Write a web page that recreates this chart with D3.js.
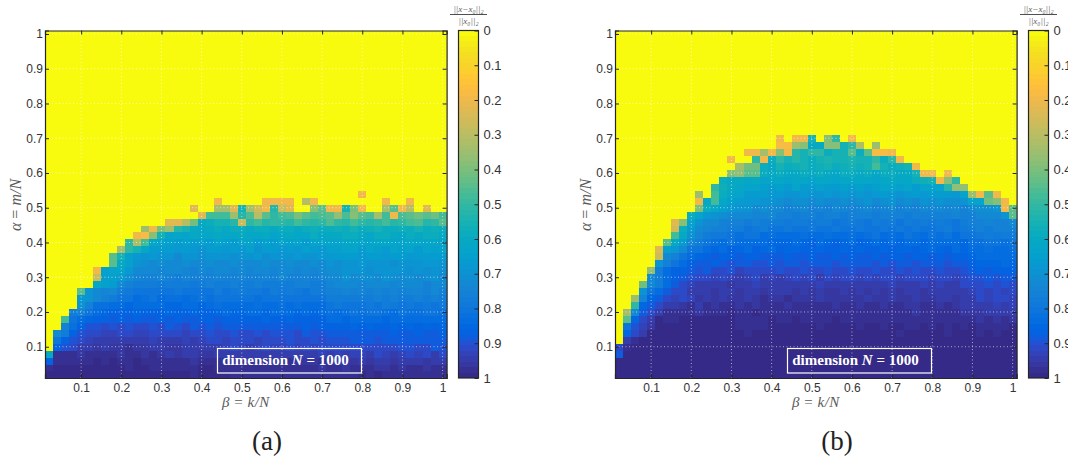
<!DOCTYPE html>
<html>
<head>
<meta charset="utf-8">
<script src="https://cdn.jsdelivr.net/npm/d3@7"></script>
<style>
  html, body { margin: 0; padding: 0; background: #fff; overflow: hidden; }
  svg { display: block; }
  .tick text { font-family: "Liberation Sans", Arial, sans-serif; fill: #333; }
  .math { font-family: "Liberation Serif", serif; fill: #5a5a5a; }
</style>
</head>
<body>
<svg id="chart" width="1068" height="459"></svg>
<script>
// tick labels
const betaTicks = [0.1, 0.2, 0.3, 0.4, 0.5, 0.6, 0.7, 0.8, 0.9, 1];
const alphaTicks = [0.1, 0.2, 0.3, 0.4, 0.5, 0.6, 0.7, 0.8, 0.9, 1];
const barTicks = [0, 0.1, 0.2, 0.3, 0.4, 0.5, 0.6, 0.7, 0.8, 0.9, 1];

// parula, 64 levels (dark blue -> yellow)
const parula = [
  [0.2081,0.1663,0.5292],[0.2116,0.1898,0.5777],[0.2123,0.2138,0.6270],[0.2081,0.2386,0.6771],
  [0.1959,0.2645,0.7279],[0.1707,0.2919,0.7792],[0.1253,0.3242,0.8303],[0.0591,0.3598,0.8683],
  [0.0117,0.3875,0.8820],[0.0060,0.4086,0.8828],[0.0165,0.4266,0.8786],[0.0329,0.4430,0.8720],
  [0.0498,0.4586,0.8641],[0.0629,0.4737,0.8554],[0.0723,0.4887,0.8467],[0.0779,0.5040,0.8384],
  [0.0793,0.5200,0.8312],[0.0749,0.5375,0.8263],[0.0641,0.5570,0.8240],[0.0488,0.5772,0.8228],
  [0.0343,0.5966,0.8199],[0.0265,0.6137,0.8135],[0.0239,0.6287,0.8038],[0.0231,0.6418,0.7913],
  [0.0228,0.6535,0.7768],[0.0267,0.6642,0.7607],[0.0384,0.6743,0.7436],[0.0590,0.6838,0.7254],
  [0.0843,0.6928,0.7062],[0.1133,0.7015,0.6859],[0.1453,0.7098,0.6646],[0.1801,0.7177,0.6424],
  [0.2178,0.7250,0.6193],[0.2586,0.7317,0.5954],[0.3022,0.7376,0.5712],[0.3482,0.7424,0.5473],
  [0.3953,0.7459,0.5244],[0.4420,0.7481,0.5033],[0.4871,0.7491,0.4840],[0.5300,0.7491,0.4661],
  [0.5709,0.7485,0.4494],[0.6099,0.7473,0.4337],[0.6473,0.7456,0.4188],[0.6834,0.7435,0.4044],
  [0.7184,0.7411,0.3905],[0.7525,0.7384,0.3768],[0.7858,0.7356,0.3633],[0.8185,0.7327,0.3498],
  [0.8507,0.7299,0.3360],[0.8824,0.7274,0.3217],[0.9139,0.7258,0.3063],[0.9450,0.7261,0.2886],
  [0.9739,0.7314,0.2666],[0.9938,0.7455,0.2403],[0.9990,0.7653,0.2164],[0.9955,0.7861,0.1967],
  [0.9880,0.8066,0.1794],[0.9789,0.8271,0.1633],[0.9697,0.8481,0.1475],[0.9626,0.8705,0.1309],
  [0.9589,0.8949,0.1132],[0.9598,0.9218,0.0948],[0.9661,0.9514,0.0755],[0.9763,0.9831,0.0538]
];

// relative error x100. first row is alpha = 0.02, left col is beta = 0.02.
// rows above the last one listed are all 0 (yellow)
const panelARows = [
  [99,99,99,99,99,99,99,99,99,99, 99,99,99,99,99,99,99,99,98,100, 100,99,99,98,98,98,97,98,98,97, 98,98,97,97,98,98,97,98,98,99, 98,99,98,97,98,98,97,98,98,98],
  [97,99,99,99,99,99,99,99,99,99, 98,99,99,98,98,98,97,98,97,100, 100,98,97,98,97,97,97,97,98,97, 97,98,97,97,96,97,97,96,97,98, 98,96,96,98,96,98,97,96,97,97],
  [87,98,98,98,98,98,99,98,99,98, 98,99,98,97,97,97,97,97,96,98, 98,97,97,96,97,96,97,97,96,96, 97,96,96,96,97,96,95,96,96,95, 96,95,95,96,95,94,95,96,95,95],
  [60,98,97,97,96,97,97,97,97,96, 97,97,96,97,96,95,96,95,95,96, 96,95,95,95,95,94,94,95,95,94, 94,95,94,95,93,94,93,94,93,93, 94,92,93,94,93,91,93,92,94,92],
  [0,87,90,92,94,95,96,95,96,96, 97,96,96,95,95,96,96,95,94,95, 95,94,93,92,93,94,93,92,93,93, 92,93,92,93,92,91,92,91,91,91, 92,91,91,92,90,90,91,91,89,90],
  [0,80,87,90,92,93,95,94,95,94, 94,95,94,93,95,94,95,93,94,93, 92,92,93,91,92,92,93,91,92,91, 90,92,91,90,91,90,90,90,89,89, 89,90,89,89,89,88,89,88,89,88],
  [0,72,78,86,90,92,92,93,93,92, 92,93,93,92,92,91,92,93,92,91, 90,91,92,90,91,91,90,91,90,90, 90,91,89,90,90,89,88,89,88,88, 88,89,88,87,89,88,87,88,88,87],
  [0,0,76,82,87,90,90,91,90,91, 90,91,91,90,91,89,90,91,89,90, 89,90,89,89,89,88,89,88,88,89, 88,89,87,89,87,86,86,87,85,86, 85,86,87,85,86,85,86,85,86,85],
  [0,0,48,80,83,85,87,87,88,87, 88,87,88,88,87,88,87,89,88,87, 87,88,86,87,87,86,87,85,87,86, 85,86,86,87,86,84,83,85,84,83, 84,83,85,84,83,84,83,84,84,83],
  [0,0,0,78,76,80,84,85,87,86, 86,85,86,87,86,85,86,86,85,86, 86,85,84,85,85,84,84,85,84,84, 83,85,84,85,83,82,83,82,81,82, 81,81,82,83,81,82,82,81,81,82],
  [0,0,0,0,70,75,82,82,83,84, 85,84,83,84,84,85,85,84,84,85, 83,82,83,84,83,83,82,83,84,82, 83,82,84,83,83,80,79,80,80,81, 79,80,78,79,80,79,80,79,80,79],
  [0,0,0,0,68,70,72,75,78,80, 81,83,82,81,83,82,82,83,82,81, 82,81,81,80,81,80,82,80,81,81, 80,81,80,81,80,78,78,77,77,78, 77,76,78,76,77,77,76,77,76,77],
  [0,0,0,0,45,70,72,74,72,77, 79,81,80,81,80,80,79,81,80,80, 80,78,80,79,78,79,79,80,78,79, 78,79,80,78,78,76,75,74,75,74, 75,74,76,74,75,74,74,75,73,75],
  [0,0,0,0,0,0,62,65,67,73, 75,78,78,77,79,78,77,78,79,78, 76,78,77,76,77,78,76,78,77,77, 78,76,76,77,78,74,73,72,73,74, 72,73,72,74,73,73,72,75,73,72],
  [0,0,0,0,0,0,27,65,65,67, 71,74,75,75,73,75,77,74,76,76, 76,74,75,76,74,75,75,74,75,73, 75,75,74,75,74,72,72,70,72,71, 71,72,70,71,72,71,73,71,70,72],
  [0,0,0,0,0,0,20,65,63,63, 68,72,73,72,74,73,73,74,75,73, 74,72,73,74,73,74,72,73,74,73, 72,74,73,74,73,71,71,70,70,70, 71,70,70,70,70,71,70,71,69,71],
  [0,0,0,0,0,0,0,0,45,60, 65,70,71,73,71,72,73,71,73,72, 71,73,72,71,73,72,73,71,72,73, 71,72,73,71,72,70,71,70,69,68, 70,69,70,71,69,70,69,68,68,69],
  [0,0,0,0,0,0,0,0,45,55, 65,68,69,68,70,70,72,70,69,71, 70,69,70,71,69,70,68,71,69,70, 69,68,70,69,68,68,67,66,67,68, 66,67,68,66,67,68,67,66,67,66],
  [0,0,0,0,0,0,0,0,0,33, 50,55,61,66,66,67,68,66,68,69, 67,66,68,67,68,65,69,67,66,68, 67,68,65,67,68,65,65,64,64,66, 64,65,66,64,65,64,66,64,65,64],
  [0,0,0,0,0,0,0,0,0,0, 50,32,47,61,63,65,66,65,67,65, 66,63,65,66,64,63,66,65,67,64, 65,63,66,64,63,63,64,62,61,63, 64,62,61,63,64,61,62,63,62,63],
  [0,0,0,0,0,0,0,0,0,0, 0,20,18,38,55,63,62,63,60,62, 62,60,62,61,60,62,62,60,63,61, 60,62,61,59,61,60,60,59,58,60, 61,59,58,60,61,58,60,59,58,60],
  [0,0,0,0,0,0,0,0,0,0, 0,0,35,20,40,35,52,55,60,62, 60,58,60,59,58,60,59,58,60,59, 58,60,59,57,59,58,57,58,56,58, 57,56,58,58,57,58,56,58,57,58],
  [0,0,0,0,0,0,0,0,0,0, 0,0,0,0,0,22,22,30,42,60, 58,55,55,52,28,50,48,52,50,50, 52,48,50,52,50,46,50,52,48,50, 52,50,48,52,50,48,46,52,50,44],
  [0,0,0,0,0,0,0,0,0,0, 0,0,0,0,0,0,0,0,0,22, 48,48,48,35,52,46,30,45,50,48, 46,40,44,48,46,44,36,46,38,44, 46,33,48,20,46,44,42,44,42,48],
  [0,0,0,0,0,0,0,0,0,0, 0,0,0,0,0,0,0,0,22,0, 0,33,33,22,55,33,25,20,52,28, 22,0,0,38,45,20,20,55,40,20, 0,0,33,45,20,30,0,22,0,0],
  [0,0,0,0,0,0,0,0,0,0, 0,0,0,0,0,0,0,0,0,0, 0,20,0,0,0,0,0,20,20,20, 20,0,30,20,0,0,0,0,0,0, 0,0,20,0,0,20,0,0,0,0],
  [0,0,0,0,0,0,0,0,0,0, 0,0,0,0,0,0,0,0,0,0, 0,0,0,0,0,0,0,0,0,0, 0,0,0,0,0,0,0,0,0,20, 0,0,0,0,0,0,0,0,0,0]
];

const panelBRows = [
  [100,100,100,100,100,100,100,100,100,100, 100,100,100,100,100,100,100,100,100,100, 100,100,100,100,100,100,100,100,100,100, 100,100,100,100,100,100,100,100,100,100, 100,100,100,100,100,100,100,100,100,100],
  [100,100,100,100,100,100,100,100,100,100, 100,100,100,100,100,100,100,100,100,100, 100,100,100,100,100,100,100,100,100,100, 100,100,100,100,100,100,100,100,100,100, 100,100,100,100,100,100,100,100,100,100],
  [100,100,100,100,100,100,100,100,100,100, 100,100,100,100,100,100,100,100,100,100, 100,100,100,100,100,100,100,100,100,100, 100,100,100,100,100,100,100,100,100,100, 100,100,100,100,100,100,100,100,100,100],
  [88,99,100,100,100,100,100,100,100,100, 100,100,100,100,100,100,100,100,100,100, 100,100,100,100,100,100,100,100,100,100, 100,100,100,100,100,100,100,100,100,100, 100,100,100,100,100,100,100,100,100,100],
  [92,97,100,100,100,100,100,100,100,100, 100,100,100,100,100,100,100,100,100,100, 100,100,100,100,100,100,100,100,100,100, 100,100,100,100,100,100,100,100,100,100, 100,100,100,100,100,100,100,100,100,100],
  [0,94,98,100,100,100,100,100,100,100, 100,100,100,100,100,100,100,100,100,100, 100,100,100,100,100,100,100,100,100,100, 100,100,100,100,100,99,100,100,100,100, 99,100,100,100,100,100,100,100,100,100],
  [0,85,92,94,99,100,100,100,100,100, 100,100,100,100,100,99,98,99,99,100, 100,100,99,100,100,99,100,100,100,99, 100,99,100,99,100,98,100,100,100,99, 100,98,100,99,99,98,99,98,99,100],
  [0,80,90,93,96,100,99,99,99,100, 100,100,100,100,100,98,98,97,98,99, 100,99,99,99,99,98,99,99,99,99, 98,99,99,98,99,99,98,98,99,98, 99,98,99,97,99,98,97,98,98,99],
  [0,45,85,92,95,99,98,98,99,99, 99,100,99,100,99,98,98,98,98,99, 98,98,99,98,98,98,98,99,98,98, 98,98,98,98,98,97,98,98,97,98, 97,98,98,97,97,96,97,96,97,96],
  [0,33,72,88,92,95,97,97,98,97, 96,98,98,98,99,98,98,99,98,98, 98,98,97,97,98,97,98,98,98,97, 97,98,98,98,98,97,98,96,98,97, 97,97,98,96,96,96,95,94,95,95],
  [0,0,50,85,89,91,94,95,96,97, 95,97,96,97,98,96,97,96,98,97, 97,96,97,98,97,97,97,96,97,97, 96,97,98,96,97,97,96,96,97,97, 96,97,96,95,95,94,95,93,94,93],
  [0,0,35,74,85,88,91,93,92,93, 96,95,96,95,96,96,95,96,97,96, 96,97,96,96,96,95,96,96,96,96, 96,95,96,96,95,96,96,95,96,96, 95,95,96,95,94,92,93,92,92,93],
  [0,0,0,70,80,84,88,91,91,94, 95,95,96,94,95,96,95,95,96,95, 94,95,96,95,96,95,96,96,94,96, 95,96,94,96,95,96,94,95,96,94, 95,95,94,94,93,92,93,92,93,92],
  [0,0,0,42,72,78,83,89,92,93, 94,94,95,94,96,94,95,93,95,94, 95,94,94,95,94,93,95,94,95,95, 94,95,95,94,93,95,94,95,93,94, 93,94,95,92,91,92,90,91,90,91],
  [0,0,0,0,72,78,84,87,88,90, 92,91,93,91,93,94,93,92,94,93, 94,93,92,93,92,94,92,93,92,91, 93,92,93,91,92,93,92,91,92,93, 91,92,93,92,90,90,89,90,89,89],
  [0,0,0,0,37,78,83,86,87,88, 90,89,92,91,90,93,92,91,91,92, 90,92,91,90,91,92,90,91,92,90, 91,92,90,91,92,90,91,90,92,91, 90,92,91,90,88,87,88,87,86,87],
  [0,0,0,0,0,70,76,80,83,86, 88,89,87,89,90,88,89,90,90,89, 90,89,88,90,89,88,89,90,88,89, 89,88,90,89,90,89,88,90,89,88, 89,90,88,89,86,85,85,85,84,85],
  [0,0,0,0,0,27,72,76,80,83, 85,86,88,86,87,88,86,87,89,88, 88,87,89,88,87,88,89,87,88,86, 88,89,87,88,87,86,88,87,86,88, 87,88,86,87,85,84,84,83,84,83],
  [0,0,0,0,0,22,65,68,73,80, 81,84,85,84,86,85,84,86,85,84, 87,85,85,87,86,85,86,87,85,86, 85,86,87,85,86,85,85,86,85,84, 85,86,84,85,83,84,82,83,83,82],
  [0,0,0,0,0,0,45,60,67,74, 77,80,82,83,81,83,84,83,84,85, 85,85,84,85,86,84,85,86,85,84, 86,85,84,85,84,85,84,84,85,83, 84,83,84,85,82,82,81,81,82,81],
  [0,0,0,0,0,0,0,47,60,69, 74,77,79,79,81,82,80,81,83,82, 83,84,83,82,84,83,82,84,83,82, 83,82,81,83,82,83,81,82,83,81, 82,81,83,81,80,79,78,79,78,78],
  [0,0,0,0,0,0,0,25,58,66, 72,74,75,76,78,78,80,79,78,80, 80,79,81,80,79,81,80,79,80,81, 79,80,81,79,80,79,80,79,81,80, 79,78,80,79,77,76,77,75,76,76],
  [0,0,0,0,0,0,0,22,38,63, 70,72,73,75,75,75,77,76,78,77, 78,79,78,78,79,78,78,80,79,78, 79,80,78,79,78,80,78,79,78,79, 78,79,80,78,76,75,74,75,76,73],
  [0,0,0,0,0,0,0,0,0,58, 63,68,70,71,73,73,72,74,74,73, 76,75,77,76,75,77,76,75,77,76, 75,76,77,75,76,75,77,75,76,75, 76,75,74,76,75,73,73,72,70,45],
  [0,0,0,0,0,0,0,0,0,0, 40,58,62,65,68,70,70,72,71,72, 73,75,74,73,75,74,75,73,74,75, 74,73,75,74,73,75,74,75,73,74, 73,74,73,75,72,71,71,70,20,45],
  [0,0,0,0,0,0,0,0,0,0, 20,60,48,61,65,67,68,68,70,70, 71,72,71,71,72,71,72,72,71,72, 71,70,72,71,70,72,71,72,70,71, 70,71,71,69,64,63,42,38,20,0],
  [0,0,0,0,0,0,0,0,0,0, 35,0,47,58,62,64,66,66,67,68, 68,69,70,68,69,70,68,69,68,70, 68,69,68,67,68,69,68,67,68,66, 67,66,68,64,35,20,45,20,0,0],
  [0,0,0,0,0,0,0,0,0,0, 0,0,50,57,60,62,63,63,65,66, 65,66,64,66,66,65,66,67,65,66, 65,66,65,64,63,65,64,66,63,64, 63,52,37,37,0,0,0,0,0,0],
  [0,0,0,0,0,0,0,0,0,0, 0,0,0,58,60,60,62,60,63,62, 62,63,61,62,63,62,61,63,62,61, 62,61,63,62,60,61,62,58,57,56, 20,38,50,0,0,0,0,0,0,0],
  [0,0,0,0,0,0,0,0,0,0, 0,0,0,0,38,37,45,45,58,60, 59,60,60,58,60,59,60,61,59,58, 60,59,61,58,59,60,60,56,20,20, 0,20,0,0,0,0,0,0,0,0],
  [0,0,0,0,0,0,0,0,0,0, 0,0,0,0,0,33,42,42,58,60, 56,58,57,56,58,57,56,58,57,56, 57,56,48,56,58,57,56,20,0,0, 0,0,0,0,0,0,0,0,0,0],
  [0,0,0,0,0,0,0,0,0,0, 0,0,0,0,20,0,0,50,20,58, 50,55,52,55,58,55,54,56,55,54, 55,56,50,58,50,20,0,0,0,0, 0,0,0,0,0,0,0,0,0,0],
  [0,0,0,0,0,0,0,0,0,0, 0,0,0,0,0,0,20,20,33,20, 38,20,52,55,50,50,58,55,55,45, 58,45,18,18,20,0,0,0,0,0, 0,0,0,0,0,0,0,0,0,0],
  [0,0,0,0,0,0,0,0,0,0, 0,0,0,0,0,0,0,0,0,0, 18,18,35,38,60,60,38,38,55,50, 32,0,35,0,0,0,0,0,0,0, 0,0,0,0,0,0,0,0,0,0],
  [0,0,0,0,0,0,0,0,0,0, 0,0,0,0,0,0,0,0,0,0, 20,0,20,20,55,0,38,50,0,20, 0,0,0,0,0,0,0,0,0,0, 0,0,0,0,0,0,0,0,0,0]
];

const NCOL = 50, NROW = 50, STEP = 0.02;
const DARK = "#262626";

const svg = d3.select("#chart");
const colors = parula.map(c => d3.rgb(c[0] * 255, c[1] * 255, c[2] * 255).formatHex());
const colorsTopDown = colors.slice().reverse();

// error 0 = yellow, error 1 = dark blue
const color = d3.scaleQuantize().domain([0, 1]).range(colorsTopDown);
const fmtTick = d => String(d);

function drawPanel(g, rows, caption) {
  const x = d3.scaleLinear().domain([0.01, 1.01]).range([45, 446.6]);
  const y = d3.scaleLinear().domain([0.01, 1.01]).range([378, 30.5]);
  const cw = x(STEP) - x(0), ch = y(0) - y(STEP);

  // cells
  const cells = [];
  for (let r = 0; r < NROW; r++) {
    for (let c = 0; c < NCOL; c++) {
      const v = rows[r] ? rows[r][c] : 0;
      cells.push({ beta: (c + 1) * STEP, alpha: (r + 1) * STEP, v: v / 100 });
    }
  }
  g.append("g").attr("shape-rendering", "crispEdges")
    .selectAll("rect").data(cells).join("rect")
    .attr("x", d => x(d.beta - STEP / 2))
    .attr("y", d => y(d.alpha + STEP / 2))
    .attr("width", cw + 0.4)
    .attr("height", ch + 0.4)
    .attr("fill", d => color(d.v));

  // dotted grid
  const grid = g.append("g").attr("stroke", "#fff").attr("stroke-opacity", 0.6)
    .attr("stroke-width", 1).attr("stroke-dasharray", "1 2.5");
  grid.selectAll("line.v").data(betaTicks).join("line").attr("class", "v")
    .attr("x1", d => x(d)).attr("x2", d => x(d)).attr("y1", y.range()[0]).attr("y2", y.range()[1]);
  grid.selectAll("line.h").data(alphaTicks).join("line").attr("class", "h")
    .attr("y1", d => y(d)).attr("y2", d => y(d)).attr("x1", x.range()[0]).attr("x2", x.range()[1]);

  // axes, ticks point inwards
  const axB = g.append("g").attr("transform", `translate(0,${y.range()[0]})`)
    .call(d3.axisBottom(x).tickValues(betaTicks).tickFormat(fmtTick).tickSize(-4).tickPadding(5));
  const axL = g.append("g").attr("transform", `translate(${x.range()[0]},0)`)
    .call(d3.axisLeft(y).tickValues(alphaTicks).tickFormat(fmtTick).tickSize(-4).tickPadding(2));
  const axT = g.append("g").attr("transform", `translate(0,${y.range()[1]})`)
    .call(d3.axisTop(x).tickValues(betaTicks).tickFormat("").tickSize(-4));
  const axR = g.append("g").attr("transform", `translate(${x.range()[1]},0)`)
    .call(d3.axisRight(y).tickValues(alphaTicks).tickFormat("").tickSize(-4));
  [axB, axL, axT, axR].forEach(a => {
    a.attr("font-family", null).attr("font-size", null);
    a.selectAll("path").attr("stroke", DARK).attr("stroke-width", 1.2);
    a.selectAll("line").attr("stroke", DARK).attr("stroke-width", 1);
    a.selectAll("text").style("font-size", "12px");
  });

  // axis labels
  const xl = g.append("text").attr("class", "math").attr("x", 246).attr("y", 407)
    .attr("text-anchor", "middle").style("font-size", "15px").style("letter-spacing", "0.5px");
  xl.append("tspan").attr("font-style", "italic").text("β");
  xl.append("tspan").text(" = ");
  xl.append("tspan").attr("font-style", "italic").text("k/N");

  const yl = g.append("text").attr("class", "math")
    .attr("transform", "translate(21,205) rotate(-90)")
    .attr("text-anchor", "middle").style("font-size", "16px");
  yl.append("tspan").attr("font-style", "italic").text("α");
  yl.append("tspan").text(" = ");
  yl.append("tspan").attr("font-style", "italic").text("m/N");

  // annotation box
  g.append("rect").attr("x", 217.5).attr("y", 348.5).attr("width", 144).attr("height", 24.5)
    .attr("fill", "none").attr("stroke", "#fff").attr("stroke-width", 1.2);
  const note = g.append("text").attr("x", 285.5).attr("y", 365).attr("text-anchor", "middle")
    .style("font-family", "'Liberation Serif', serif").style("font-size", "15px")
    .style("font-weight", "bold").attr("fill", "#fff");
  note.append("tspan").text("dimension ");
  note.append("tspan").attr("font-style", "italic").text("N");
  note.append("tspan").text(" = 1000");

  // colorbar
  const bar = d3.scaleLinear().domain([0, 1]).range([30.5, 378]);
  const barG = g.append("g");
  barG.append("g").attr("shape-rendering", "crispEdges")
    .selectAll("rect").data(colorsTopDown).join("rect")
    .attr("x", 458.5).attr("width", 20)
    .attr("y", (d, i) => bar(i / colors.length))
    .attr("height", bar(1 / colors.length) - bar(0) + 0.4)
    .attr("fill", d => d);
  barG.append("rect").attr("x", 458.5).attr("y", 30.5).attr("width", 20).attr("height", 347.5)
    .attr("fill", "none").attr("stroke", DARK).attr("stroke-width", 1.2);
  const axBar = barG.append("g").attr("transform", "translate(478.5,0)")
    .call(d3.axisRight(bar).tickValues(barTicks).tickFormat(fmtTick).tickSize(0).tickPadding(5));
  axBar.attr("font-family", null).attr("font-size", null);
  axBar.select("path").remove();
  axBar.selectAll("text").style("font-size", "13px");
  axBar.selectAll(".tick").append("line").attr("x1", -4).attr("x2", 0)
    .attr("stroke", DARK).attr("stroke-width", 1);

  // colorbar title, a small fraction
  const ft = g.append("g").attr("text-anchor", "middle").style("font-size", "9px");
  ft.append("text").attr("class", "math").attr("x", 468.5).attr("y", 11.5).attr("font-style", "italic")
    .text("||x−x₀||₂");
  ft.append("line").attr("x1", 450).attr("x2", 487).attr("y1", 14.5).attr("y2", 14.5)
    .attr("stroke", "#222").attr("stroke-width", 0.8);
  ft.append("text").attr("class", "math").attr("x", 468.5).attr("y", 23.5).attr("font-style", "italic")
    .text("||x₀||₂");

  // caption
  g.append("text").attr("x", 267).attr("y", 450).attr("text-anchor", "middle")
    .style("font-family", "'Liberation Serif', serif").style("font-size", "27px")
    .attr("fill", "#222").text(caption);
}

drawPanel(svg.append("g"), panelARows, "(a)");
drawPanel(svg.append("g").attr("transform", "translate(570,0)"), panelBRows, "(b)");
</script>
</body>
</html>
